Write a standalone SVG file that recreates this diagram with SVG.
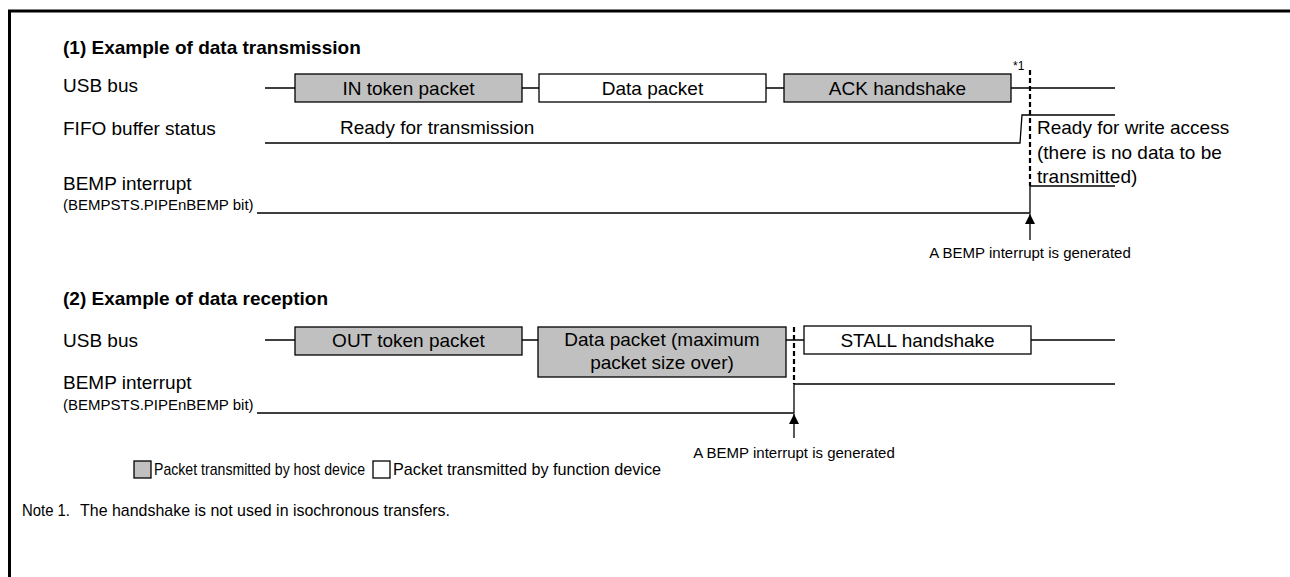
<svg xmlns="http://www.w3.org/2000/svg" width="1290" height="577" viewBox="0 0 1290 577">
<style>
text{font-family:"Liberation Sans",Arial,sans-serif;fill:#000}
.t{font-size:19px;font-weight:bold}
.l{font-size:19px}
.s{font-size:15px}
.n{font-size:12px}
.g{font-size:17px}
.c{text-anchor:middle}
.host{fill:#c0c0c0;stroke:#000;stroke-width:1.3}
.func{fill:#fff;stroke:#000;stroke-width:1.3}
.w{fill:none;stroke:#000;stroke-width:1.3}
.d{fill:none;stroke:#000;stroke-width:2.2;stroke-dasharray:5 3}
</style>
<defs>
<marker id="ah" viewBox="0 0 10 10" refX="10" refY="5" markerWidth="11" markerHeight="10" markerUnits="userSpaceOnUse" orient="auto"><path d="M0,0 L10,5 L0,10 z" fill="#000"/></marker>
</defs>
<g id="frame"><path d="M8,11 H1290 M9.5,9.5 V577" fill="none" stroke="#000" stroke-width="3"/></g>

<g id="sec1">
<text class="t" x="63" y="54">(1) Example of data transmission</text>
<text class="l" x="63" y="92">USB bus</text>
<text class="l" x="63" y="135">FIFO buffer status</text>
<text class="l" x="63" y="190">BEMP interrupt</text>
<text class="s" x="63" y="210">(BEMPSTS.PIPEnBEMP bit)</text>
</g>
<g id="in-token"><rect class="host" x="295" y="74" width="227" height="28"/><text class="l c" x="408.5" y="95">IN token packet</text></g>
<g id="data1"><rect class="func" x="539" y="74" width="227" height="28"/><text class="l c" x="652.5" y="95">Data packet</text></g>
<g id="ack"><rect class="host" x="784" y="74" width="227" height="28"/><text class="l c" x="897.5" y="95">ACK handshake</text></g>
<g id="note1mark"><text class="n" x="1013" y="70">*1</text></g>
<g id="fifo-text">
<text class="l" x="340" y="134">Ready for transmission</text>
<text class="l" x="1037" y="134">Ready for write access</text>
<text class="l" x="1037" y="159">(there is no data to be</text>
<text class="l" x="1037" y="183">transmitted)</text>
</g>
<g id="gen1"><text class="s c" x="1030" y="258">A BEMP interrupt is generated</text></g>

<g id="sec2">
<text class="t" x="63" y="305">(2) Example of data reception</text>
<text class="l" x="63" y="347">USB bus</text>
<text class="l" x="63" y="389">BEMP interrupt</text>
<text class="s" x="63" y="410">(BEMPSTS.PIPEnBEMP bit)</text>
</g>
<g id="out-token"><rect class="host" x="295" y="327" width="227" height="28"/><text class="l c" x="408.5" y="347">OUT token packet</text></g>
<g id="data2"><rect class="host" x="538" y="327" width="248" height="50"/><text class="l c" x="662" y="346">Data packet (maximum</text><text class="l c" x="662" y="369">packet size over)</text></g>
<g id="stall"><rect class="func" x="804" y="326" width="227" height="28"/><text class="l c" x="917.5" y="347">STALL handshake</text></g>
<g id="gen2"><text class="s c" x="794" y="458">A BEMP interrupt is generated</text></g>

<g id="connectors">
<path class="w" d="M265,88 H295 M522,88 H539 M766,88 H784 M1011,88 H1115"/>
<path class="w" d="M265,143 H1020 L1022,115 H1115"/>
<path class="w" d="M257,213 H1030 V186 H1115"/>
<path class="d" d="M1030,70 V186"/>
<path class="w" d="M1030,240 V214" marker-end="url(#ah)"/>
<path class="w" d="M265,340 H295 M522,340 H538 M786,340 H804 M1031,340 H1115"/>
<path class="w" d="M257,413 H794 V384 H1115"/>
<path class="d" d="M794,327 V384"/>
<path class="w" d="M794,438 V414" marker-end="url(#ah)"/>
</g>

<g id="legend">
<rect class="host" x="134" y="461" width="17" height="17"/>
<text class="g" x="154" y="475" textLength="211" lengthAdjust="spacingAndGlyphs">Packet transmitted by host device</text>
<rect class="func" x="373" y="461" width="17" height="17"/>
<text class="g" x="393" y="475" textLength="268" lengthAdjust="spacingAndGlyphs">Packet transmitted by function device</text>
</g>
<g id="note"><text class="g" x="22" y="516" textLength="48" lengthAdjust="spacingAndGlyphs">Note 1.</text><text class="g" x="80" y="516" textLength="370" lengthAdjust="spacingAndGlyphs">The handshake is not used in isochronous transfers.</text></g>
</svg>
